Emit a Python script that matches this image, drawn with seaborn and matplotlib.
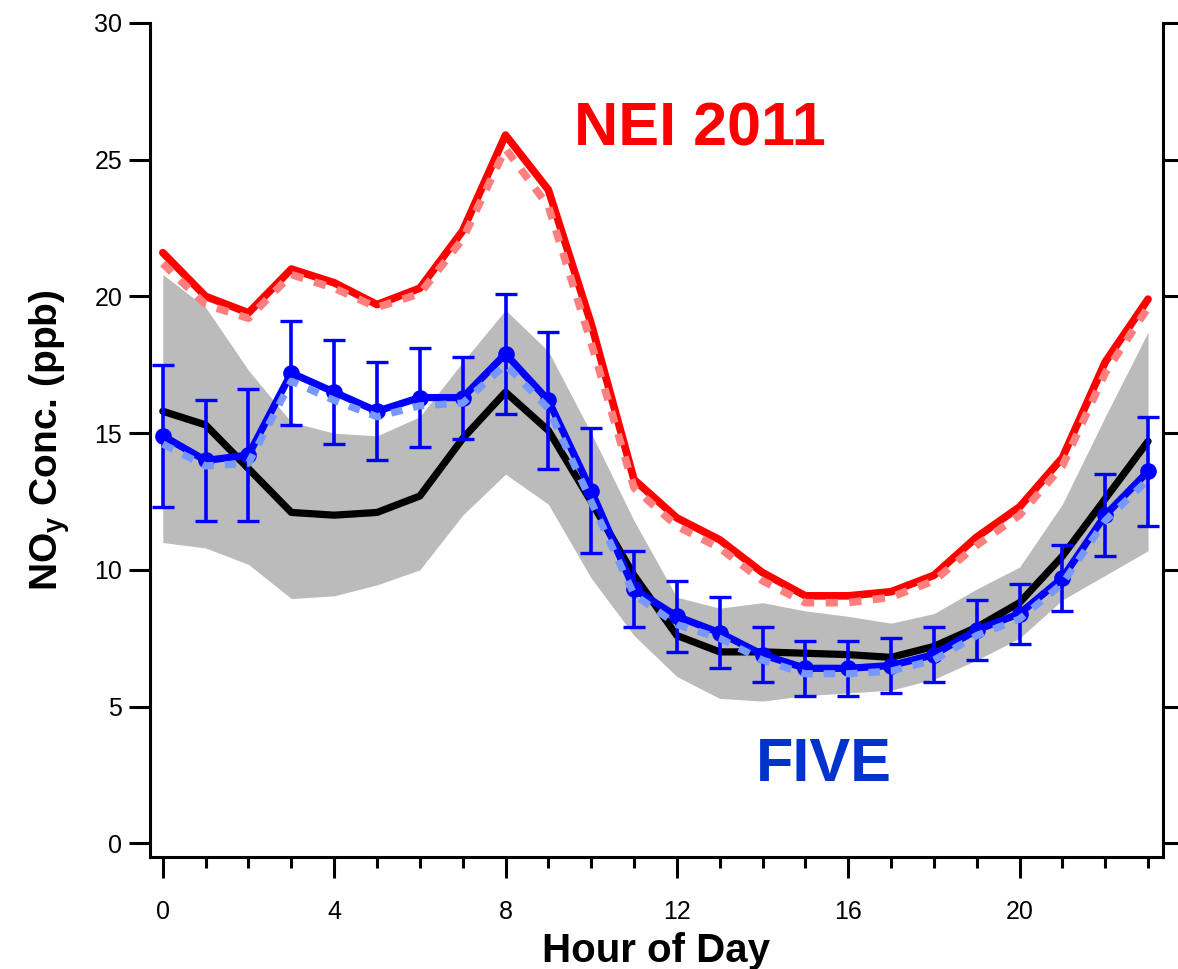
import numpy as np
import pandas as pd
import matplotlib
matplotlib.use("Agg")
import matplotlib.pyplot as plt
import seaborn as sns
from matplotlib.ticker import MultipleLocator

hours = list(range(24))
nei_2011 = [21.6, 20.0, 19.4, 21.0, 20.5, 19.7, 20.3, 22.4, 25.9, 23.9, 19.0, 13.3,
            11.9, 11.1, 9.9, 9.05, 9.05, 9.2, 9.8, 11.2, 12.3, 14.1, 17.6, 19.9]
nei_2011_alt = [21.2, 19.7, 19.2, 20.8, 20.3, 19.6, 20.1, 22.1, 25.4, 23.3, 18.3, 13.0,
                11.6, 10.8, 9.6, 8.8, 8.8, 9.0, 9.6, 10.9, 12.0, 13.8, 17.2, 19.6]
obs_median = [15.8, 15.3, 13.7, 12.1, 12.0, 12.1, 12.7, 14.8, 16.5, 15.1, 12.5, 9.8,
              7.6, 7.0, 7.0, 6.95, 6.9, 6.8, 7.2, 7.9, 8.8, 10.5, 12.6, 14.7]
obs_upper = [20.8, 19.6, 17.3, 15.4, 15.0, 14.9, 15.6, 17.6, 19.5, 18.0, 15.0, 11.8,
             9.0, 8.6, 8.8, 8.5, 8.3, 8.05, 8.4, 9.3, 10.1, 12.4, 15.6, 18.7]
obs_lower = [11.0, 10.8, 10.2, 8.95, 9.05, 9.45, 10.0, 12.0, 13.5, 12.4, 9.7, 7.6,
             6.1, 5.3, 5.2, 5.4, 5.5, 5.6, 6.0, 6.7, 7.5, 8.9, 9.8, 10.7]
five = [14.9, 14.0, 14.2, 17.2, 16.5, 15.8, 16.3, 16.3, 17.9, 16.2, 12.9, 9.3,
        8.3, 7.7, 6.9, 6.4, 6.4, 6.5, 6.9, 7.8, 8.4, 9.7, 12.0, 13.6]
five_err = [2.6, 2.2, 2.4, 1.9, 1.9, 1.8, 1.8, 1.5, 2.2, 2.5, 2.3, 1.4,
            1.3, 1.3, 1.0, 1.0, 1.0, 1.0, 1.0, 1.1, 1.1, 1.2, 1.5, 2.0]
five_alt = [14.6, 13.8, 13.9, 16.9, 16.2, 15.6, 16.0, 16.1, 17.5, 15.9, 12.5, 9.1,
            8.0, 7.5, 6.7, 6.2, 6.2, 6.3, 6.7, 7.6, 8.2, 9.5, 11.8, 13.3]

x_ticks = [0, 4, 8, 12, 16, 20]
y_ticks = [0, 5, 10, 15, 20, 25, 30]

df = pd.DataFrame({
    "hour": hours, "nei": nei_2011, "nei_alt": nei_2011_alt, "med": obs_median,
    "up": obs_upper, "lo": obs_lower, "five": five, "err": five_err, "five_alt": five_alt,
})

sns.set_style("white")
plt.rcParams["font.family"] = ["Liberation Sans", "DejaVu Sans"]
plt.rcParams["mathtext.fontset"] = "custom"
plt.rcParams["mathtext.rm"] = "Liberation Sans:bold"
plt.rcParams["mathtext.bf"] = "Liberation Sans:bold"
plt.rcParams["text.color"] = "black"
plt.rcParams["axes.labelcolor"] = "black"
plt.rcParams["xtick.color"] = "black"
plt.rcParams["ytick.color"] = "black"

fig = plt.figure(figsize=(11.78, 9.69), dpi=100)
ax = fig.add_axes([0.1273, 0.1156, 0.86, 0.8607])

ax.fill_between(df["hour"], df["lo"], df["up"], color="#bbbbbb", linewidth=0, zorder=1)
sns.lineplot(data=df, x="hour", y="med", color="black", linewidth=5.2, ax=ax, zorder=2)
sns.lineplot(data=df, x="hour", y="nei", color="#ff0000", linewidth=5.5, ax=ax, zorder=3)
sns.lineplot(data=df, x="hour", y="nei_alt", color="#ff7f7f", linewidth=5.5, ax=ax, zorder=4,
             linestyle=(0, (1.6, 1.5)))
ax.errorbar(df["hour"], df["five"], yerr=df["err"], fmt="none", ecolor="#0000ff",
            elinewidth=2.6, capsize=8, capthick=2.4, zorder=5)
sns.lineplot(data=df, x="hour", y="five", color="#0000ff", linewidth=5.2, marker="o",
             markersize=12, markeredgewidth=0, ax=ax, zorder=6)
sns.lineplot(data=df, x="hour", y="five_alt", color="#7799ff", linewidth=5.2, ax=ax, zorder=7,
             linestyle=(0, (1.6, 1.5)))

ax.text(0.543, 0.872, "NEI 2011", transform=ax.transAxes, color="#ff0000",
        fontsize=44, fontweight="bold", ha="center", va="center")
ax.text(0.665, 0.110, "FIVE", transform=ax.transAxes, color="#0033cc",
        fontsize=44, fontweight="bold", ha="center", va="center")

ax.set_xlim(-0.3, 23.35)
ax.set_ylim(-0.5, 30)
ax.set_xticks(x_ticks)
ax.xaxis.set_minor_locator(MultipleLocator(1))
ax.set_yticks(y_ticks)

for s in ["left", "bottom", "right"]:
    ax.spines[s].set_linewidth(2.2)
    ax.spines[s].set_color("black")
ax.spines["top"].set_visible(False)
ax.spines["left"].set_bounds(-0.5, 30)
ax.spines["right"].set_bounds(-0.5, 30)

ax.tick_params(axis="both", which="major", direction="out", length=15, width=2.2,
               labelsize=18, color="black", labelcolor="black", pad=5)
ax.tick_params(axis="x", which="minor", direction="out", length=8, width=2.2, color="black")
ax.tick_params(axis="y", which="both", left=True, right=True, labelright=False)
ax.tick_params(axis="x", which="both", bottom=True, top=False)
ax.tick_params(axis="x", which="major", pad=16)

ax.set_xlabel("Hour of Day", fontsize=29, fontweight="bold", labelpad=6)
ax.set_ylabel(r"NO$_\mathregular{y}$ Conc. (ppb)", fontsize=28, fontweight="bold", labelpad=16)
ax.grid(False)

fig.savefig("out.png", dpi=100)
